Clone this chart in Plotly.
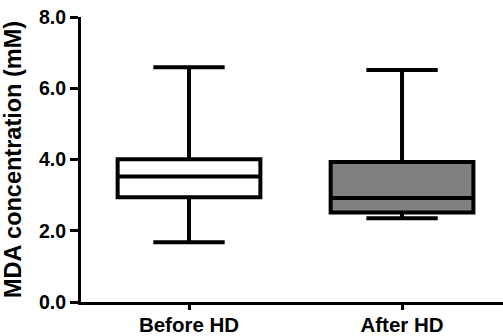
import plotly.graph_objects as go

categories = ["Before HD", "After HD"]
lower_whisker = [1.68, 2.35]
q1_values = [2.94, 2.51]
median_values = [3.52, 2.92]
q3_values = [4.01, 3.93]
upper_whisker = [6.59, 6.51]
fill_colors = ["#ffffff", "#808080"]
y_tick_values = [0, 2, 4, 6, 8]

fig = go.Figure()
for i, cat in enumerate(categories):
    fig.add_trace(go.Box(
        x=[cat],
        q1=[q1_values[i]],
        median=[median_values[i]],
        q3=[q3_values[i]],
        lowerfence=[lower_whisker[i]],
        upperfence=[upper_whisker[i]],
        fillcolor=fill_colors[i],
        line=dict(color="black", width=4),
        width=0.67,
        whiskerwidth=0.5,
        boxpoints=False,
        showlegend=False,
        hoverinfo="skip",
    ))

font_family = "Liberation Sans, Arial, sans-serif"
fig.update_layout(
    width=503, height=336,
    margin=dict(l=81, r=0, t=17, b=34),
    paper_bgcolor="white", plot_bgcolor="white",
    xaxis=dict(
        type="category",
        categoryorder="array", categoryarray=categories,
        range=[-0.507, 1.474],
        showline=True, linecolor="black", linewidth=3,
        ticks="outside", ticklen=5, tickwidth=3, tickcolor="black",
        ticklabelstandoff=-3,
        showgrid=False, zeroline=False,
        tickfont=dict(family=font_family, size=20.5, color="black", weight="bold"),
    ),
    yaxis=dict(
        range=[0, 8],
        tickvals=y_tick_values,
        tickformat=".1f",
        showline=True, linecolor="black", linewidth=3,
        ticks="outside", ticklen=8, tickwidth=3, tickcolor="black",
        showgrid=False, zeroline=False,
        tickfont=dict(family=font_family, size=19.5, color="black", weight="bold"),
        title=dict(text="MDA concentration (mM)", standoff=14,
                   font=dict(family=font_family, size=23.5, color="black", weight="bold")),
    ),
)

fig.write_html("out.html", config={"displayModeBar": False},
               post_script="document.body.style.margin='0';")
